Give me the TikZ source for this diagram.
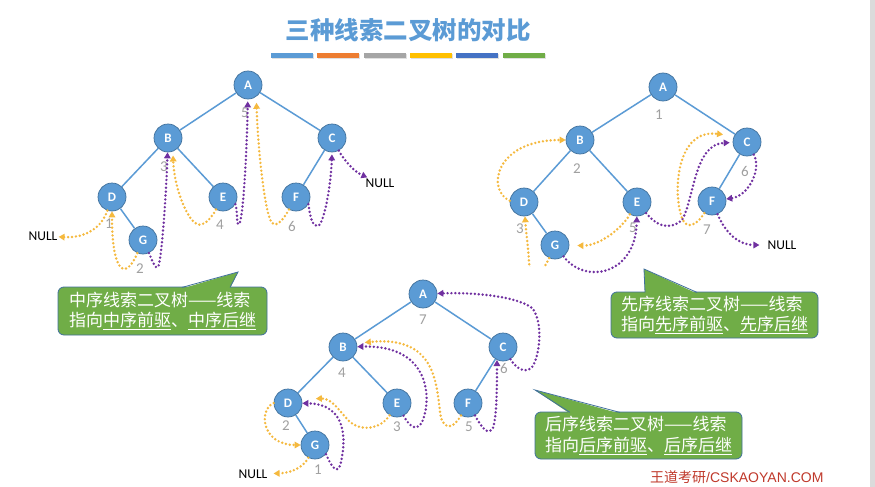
\documentclass[tikz,border=0pt]{standalone}
\usepackage{fontspec}
\setmainfont{Carlito}
\newfontfamily\cjk{Noto Sans CJK SC}
\newfontfamily\lib{Liberation Sans}
\usetikzlibrary{arrows.meta}
\definecolor{nodeblue}{HTML}{5B9BD5}
\definecolor{nodeedge}{HTML}{41719C}
\definecolor{thorange}{HTML}{F5B93E}
\definecolor{thpurple}{HTML}{7030A0}
\definecolor{calgreen}{HTML}{70AD47}
\definecolor{numgray}{HTML}{A0A0A0}
\definecolor{footred}{HTML}{C0392B}
\definecolor{barA}{HTML}{5B9BD5}
\definecolor{barB}{HTML}{ED7D31}
\definecolor{barC}{HTML}{A5A5A5}
\definecolor{barD}{HTML}{FFC000}
\definecolor{barE}{HTML}{4472C4}
\definecolor{barF}{HTML}{70AD47}
\begin{document}
\begin{tikzpicture}[x=1pt,y=-1pt,
  tnode/.style={circle,fill=nodeblue,draw=nodeedge,line width=0.7pt,minimum size=28pt,inner sep=0pt,text=white,font=\fontsize{13}{13}\selectfont\bfseries},
  edge/.style={draw=nodeblue,line width=1.5pt},
  num/.style={text=numgray,font=\fontsize{15}{15}\selectfont,inner sep=0pt},
  nulltxt/.style={font=\fontsize{13.5}{13.5}\selectfont,inner sep=1pt},
  thr/.style={line width=2.7pt,dash pattern=on 0pt off 3.9pt,line cap=round,-{Triangle[length=6pt,width=6.5pt]}},
  othr/.style={thr,draw=thorange},
  pthr/.style={thr,draw=thpurple},
  callout/.style={fill=calgreen,draw=nodeedge,line width=0.8pt,rounded corners=6pt,text=white,font=\cjk\fontsize{17}{20.5}\selectfont,align=left,inner sep=0pt},
  ptr/.style={draw=nodeedge,line width=0.8pt,line join=miter}
]
\useasboundingbox (0,0) rectangle (875,487);
\fill[white] (0,0) rectangle (875,487);
\fill[black!14] (870,0) rectangle (875,487);

% title
\node[font=\cjk\bfseries\fontsize{24.5}{24.5}\selectfont,text=nodeblue,inner sep=0pt] (title) at (408,30) {三种线索二叉树的对比};
\foreach \xa/\xb/\c in {271/313/barA,317/359/barB,364/406/barC,410/452/barD,456/498/barE,503/545/barF}{
  \fill[black!12] (\xa+1,54.5) rectangle (\xb+1,59.5);
  \fill[\c] (\xa,53) rectangle (\xb,58);
}

% ---------- tree 1 (inorder) ----------
\node[tnode] (a1) at (248,85) {A};
\node[tnode] (b1) at (168,138) {B};
\node[tnode] (c1) at (332,138) {C};
\node[tnode] (d1) at (112,197) {D};
\node[tnode] (e1) at (223,197) {E};
\node[tnode] (f1) at (296,197) {F};
\node[tnode] (g1) at (143,240) {G};
\draw[edge] (a1)--(b1) (a1)--(c1) (b1)--(d1) (b1)--(e1) (c1)--(f1) (d1)--(g1);
\node[num] (n1a) at (245,113) {5};
\node[num] (n1b) at (164,167) {3};
\node[num] (n1d) at (109,224) {1};
\node[num] (n1e) at (220,225) {4};
\node[num] (n1f) at (292,226) {6};
\node[num] (n1g) at (140,269) {2};
\node[nulltxt] (null1) at (43,236) {NULL};
\node[nulltxt] (null2) at (380,183) {NULL};

\draw[othr] (d1) .. controls (100,232) and (80,238) .. (null1);
\draw[othr] (g1) .. controls (126,280) and (112,275) .. (d1);
\draw[pthr] (g1) .. controls (153,262) and (155,269) .. (158,267) .. controls (161,265) and (166,200) .. (b1);
\draw[othr,shorten >=4pt] (e1) .. controls (208,224) and (200,227) .. (195,223) .. controls (185,215) and (174,185) .. (b1.-70);
\draw[pthr,shorten >=2pt] (e1.-30) .. controls (238,212) and (236,226) .. (239,224) .. controls (243,222) and (247,150) .. (a1);
\draw[othr,shorten >=6pt] (f1) .. controls (282,222) and (276,227) .. (272,223) .. controls (265,215) and (258,150) .. (a1.-55);
\draw[pthr,shorten >=2pt] (f1.-30) .. controls (310,218) and (313,227) .. (318,226) .. controls (324,224) and (331,185) .. (c1.south);
\draw[pthr] (c1) .. controls (345,162) and (355,172) .. (null2);

% ---------- tree 2 (preorder) ----------
\node[tnode] (a2) at (663,87) {A};
\node[tnode] (b2) at (580,140) {B};
\node[tnode] (c2) at (747,142) {C};
\node[tnode] (d2) at (524,202) {D};
\node[tnode] (e2) at (637,202) {E};
\node[tnode] (f2) at (712,201) {F};
\node[tnode] (g2) at (555,245) {G};
\draw[edge] (a2)--(b2) (a2)--(c2) (b2)--(d2) (b2)--(e2) (c2)--(f2) (d2)--(g2);
\node[num] (n2a) at (659,115) {1};
\node[num] (n2b) at (577,169) {2};
\node[num] (n2c) at (745,171) {6};
\node[num] (n2d) at (520,229) {3};
\node[num] (n2e) at (633,228) {5};
\node[num] (n2f) at (707,230) {7};
\node[nulltxt,inner xsep=8pt] (null3) at (782,245) {NULL};

\draw[othr] (d2.175) .. controls (486,190) and (495,140) .. (b2);
\begin{scope}
\clip (480,150) rectangle (560,266);
\draw[othr] (g2) .. controls (543,272) and (531,285) .. (529,262) .. controls (528,245) and (526,232) .. (d2);
\end{scope}
\draw[pthr] (g2) .. controls (585,285) and (636,275) .. (e2);
\draw[othr,shorten >=8pt] (e2) .. controls (622,228) and (600,246) .. (g2);
\draw[pthr,shorten >=3pt] (e2) .. controls (655,224) and (668,232) .. (682,220) .. controls (694,200) and (694,144) .. (c2);
\draw[othr,shorten >=11pt] (f2) .. controls (698,223) and (690,229) .. (684,222) .. controls (673,205) and (672,128) .. (c2.155);
\draw[pthr] (c2) .. controls (762,170) and (748,196) .. (f2);
\draw[pthr] (f2) .. controls (725,232) and (738,245) .. (null3);

% ---------- tree 3 (postorder) ----------
\node[tnode] (a3) at (423,294) {A};
\node[tnode] (b3) at (343,347) {B};
\node[tnode] (c3) at (503,347) {C};
\node[tnode] (d3) at (288,403) {D};
\node[tnode] (e3) at (397,403) {E};
\node[tnode] (f3) at (468,403) {F};
\node[tnode] (g3) at (315,445) {G};
\draw[edge] (a3)--(b3) (a3)--(c3) (b3)--(d3) (b3)--(e3) (c3)--(f3) (d3)--(g3);
\node[num] (n3a) at (423,320) {7};
\node[num] (n3b) at (342,373) {4};
\node[num] (n3c) at (504,368) {6};
\node[num] (n3d) at (286,426) {2};
\node[num] (n3e) at (397,427) {3};
\node[num] (n3f) at (469,427) {5};
\node[num] (n3g) at (318,470) {1};
\node[nulltxt,inner xsep=6pt] (null4) at (253,474) {NULL};

\draw[othr] (g3) .. controls (304,466) and (293,473) .. (null4);
\draw[pthr] (g3.-40) .. controls (332,468) and (338,476) .. (341,462) .. controls (346,440) and (347,404) .. (d3);
\draw[othr] (d3.west) .. controls (258,410) and (262,445) .. (g3.west);
\draw[othr,shorten >=14pt] (e3) .. controls (382,428) and (362,433) .. (349,421) .. controls (340,412) and (332,398) .. (d3.15);
\draw[pthr] (e3) .. controls (410,428) and (418,432) .. (423,420) .. controls (432,395) and (428,345) .. (b3);
\draw[othr,shorten >=8pt] (f3) .. controls (455,426) and (446,432) .. (441,418) .. controls (436,390) and (440,335) .. (b3.15);
\draw[pthr] (f3) .. controls (482,428) and (488,436) .. (493,428) .. controls (497,415) and (497,385) .. (c3.-115);
\draw[pthr] (c3) .. controls (517,370) and (527,374) .. (533,366) .. controls (541,350) and (542,322) .. (533,309) .. controls (522,298) and (480,292) .. (a3);

% ---------- callouts ----------
\node[callout,minimum width=209pt,minimum height=48pt] (k1) at (162.5,311)
  {中序线索二叉树——线索\\指向\underline{中序前驱}、\underline{中序后继}};
\fill[calgreen] (182,288.6) -- (238,272) -- (230,288.6) -- cycle;
\draw[ptr] (182,287.4) -- (238,272) -- (230,287.4);

\node[callout,minimum width=207pt,minimum height=46pt] (k2) at (714.5,315)
  {先序线索二叉树——线索\\指向\underline{先序前驱}、\underline{先序后继}};
\fill[calgreen] (645,293.6) -- (644,269) -- (697,293.6) -- cycle;
\draw[ptr] (645,292.4) -- (644,269) -- (697,292.4);

\node[callout,minimum width=207pt,minimum height=47pt] (k3) at (638.5,435.5)
  {后序线索二叉树——线索\\指向\underline{后序前驱}、\underline{后序后继}};
\fill[calgreen] (570,413.6) -- (535,390) -- (620,413.6) -- cycle;
\draw[ptr] (570,412.4) -- (535,390) -- (620,412.4);

% footer
\node[anchor=north west,inner sep=0pt,text=footred,font=\fontsize{14}{14}\selectfont] (foot) at (650,470) {\cjk 王道考研\lib /CSKAOYAN.COM};
\end{tikzpicture}
\end{document}
